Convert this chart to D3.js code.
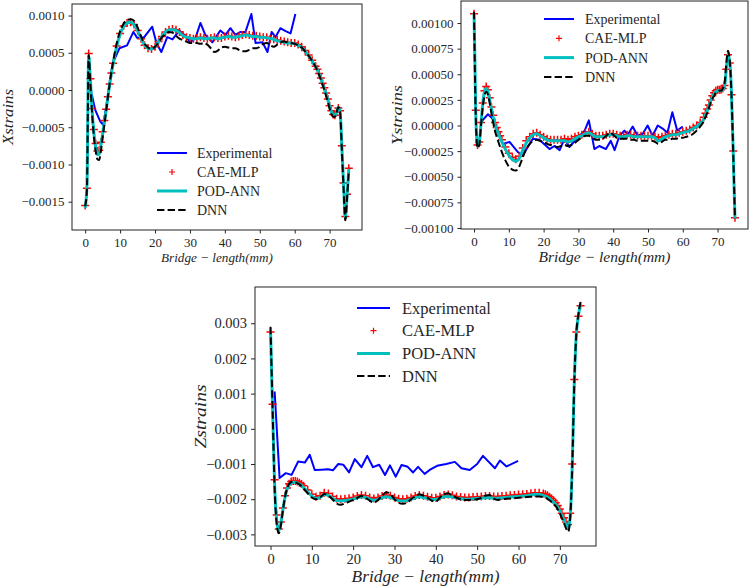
<!DOCTYPE html>
<html><head><meta charset="utf-8">
<script src="https://cdn.jsdelivr.net/npm/d3@7"></script>
<style>
body{margin:0;background:#fff}
svg{display:block}
</style>
</head><body>
<svg id="c" width="750" height="588"></svg>
<script>
// ---------------- DATA ----------------
const legendLabels = ["Experimental", "CAE-MLP", "POD-ANN", "DNN"];
const xTicks = [0, 10, 20, 30, 40, 50, 60, 70];
const yTicksX = [-0.0015, -0.0010, -0.0005, 0.0, 0.0005, 0.0010];
const yTicksY = [-0.001, -0.00075, -0.0005, -0.00025, 0, 0.00025, 0.0005, 0.00075, 0.001];
const yTicksZ = [-0.003, -0.002, -0.001, 0, 0.001, 0.002, 0.003];
const yLabels = ["Xstrains", "Ystrains", "Zstrains"];
const xLabel = "Bridge \u2212 length(mm)";

// units of the value arrays below
const unitX = 1e-4, unitY = 1e-4, unitZ = 1e-3;

// model sampling positions (mm)
const gridX = [0,0.5,1,1.5,2,2.5,3,3.5,4,4.5,5,5.5,6,6.5,7,7.5,8,
  9,10,11,12,13,14,15,16,17,18,19,20,21,22,23,24,25,26,27,28,29,30,31,32,33,34,35,36,37,38,
  39,40,41,42,43,44,45,46,47,48,49,50,51,52,53,54,55,56,57,58,59,60,61,62,63,64,65,66,
  66.5,67,67.5,68,68.5,69,69.5,70,70.5,71,71.5,72,72.5,73,73.5,74,74.5,75,75.5];
const gridYZ = [0,0.5,1,1.5,2,2.5,3,3.5,4,4.5,5,5.5,6,6.5,7,7.5,8,
  9,10,11,12,13,14,15,16,17,18,19,20,21,22,23,24,25,26,27,28,29,30,31,32,33,34,35,36,37,38,
  39,40,41,42,43,44,45,46,47,48,49,50,51,52,53,54,55,56,57,58,59,60,61,62,63,64,65,66,
  66.5,67,67.5,68,68.5,69,69.5,70,70.5,71,71.5,72,72.5,73,73.5,74,74.5,75];

// ---- X strains (x1e-4) ----
const caeX = [-15.5,-13.2,4.9,1.5,-2.5,-5.3,-7.2,-8.2,-8.1,-7.0,-5.6,-4.1,-2.6,-0.9,0.8,2.3,3.6,
  5.9,7.6,8.6,9.0,9.1,8.8,8.0,6.9,6.0,5.6, 5.5,5.8,6.5,7.2,7.8,8.1,8.2,8.1,7.8,7.4,
  7.1,7.0,6.9,7.0,7.1,7.0,6.9,7.0,7.1,7.0, 7.0,7.2,7.3,7.2,7.1,7.2,7.4,7.5,7.4,7.3,
  7.3,7.2,7.1,7.1,6.9,6.8,6.7,6.6,6.5,6.4, 6.3,6.3,6.1,5.8,5.3,4.7,4.0,3.2,
  2.8,2.2,1.6,0.9,0.3,-0.4,-1.2,-2.1,-2.8,-3.3,-3.4,-3.0,-2.4,-2.8,-7.5,-12.5,-17.0,-14.0,-10.5];
const podX = [-15.8,-13.0,4.6,1.2,-2.9,-5.8,-7.7,-8.7,-8.6,-7.4,-5.9,-4.3,-2.7,-1.0,0.7,2.2,3.5,
  5.8,7.5,8.5,9.0,9.1,8.8,8.0,6.9,6.0,5.6, 5.5,5.8,6.5,7.2,7.8,8.1,8.1,8.0,7.7,7.3,
  7.1,7.0,6.9,6.9,7.0,6.9,6.9,7.0,7.0,6.9, 7.0,7.1,7.2,7.1,7.1,7.2,7.3,7.4,7.3,7.2,
  7.2,7.1,7.1,7.0,6.9,6.8,6.6,6.5,6.4,6.3, 6.3,6.2,6.0,5.7,5.2,4.6,3.9,3.1,
  2.7,2.1,1.5,0.8,0.2,-0.5,-1.3,-2.2,-2.9,-3.4,-3.4,-2.9,-2.3,-2.9,-7.6,-12.7,-17.2,-14.2,-10.6];
const dnnX = [-15.6,-13.4,4.7,0.8,-3.3,-6.3,-8.2,-9.3,-9.4,-8.2,-6.4,-4.6,-2.9,-1.0,0.8,2.4,3.8,
  6.2,7.9,8.9,9.4,9.5,9.3,8.4,7.2,6.2,5.7, 5.5,5.8,6.4,7.1,7.5,7.8,7.7,7.3,6.9,6.7,
  6.5,6.3,6.3,6.3,6.2,6.3,6.1,5.6,5.1,5.3, 5.7,5.8,5.7,5.6,5.6,5.4,5.2,5.2,5.4,5.6,
  5.6,5.8,6.2,6.3,6.0,5.8,6.1,6.4,6.5,6.4, 6.3,6.2,6.0,5.7,5.2,4.6,3.9,3.1,
  2.6,2.0,1.4,0.7,0.0,-0.8,-1.6,-2.5,-3.2,-3.6,-3.6,-3.0,-2.3,-3.0,-8.0,-13.2,-17.5,-14.5,-10.8];
const expXpos = [0.7,1.4,2.9,4.3,5.2,7.9,9.8,12.0,13.8,14.9,16.9,19.2,20.4,21.8,23.5,25.0,27.0,28.4,30.1,31.6,
  33.0,34.4,36.4,38.7,40.2,41.6,43.0,44.5,45.9,47.6,48.8,50.8,52.2,53.4,54.5,55.9,57.4,58.8,60.2];
const expX = [1.1,0.4,-2.7,-4.2,-4.7,3.6,5.6,6.0,7.8,7.0,7.1,8.5,6.3,5.1,7.1,6.8,8.0,7.4,6.4,7.0,
  9.0,7.4,6.4,8.0,7.4,8.3,7.4,7.8,7.8,10.2,6.3,6.4,5.1,7.8,7.1,8.3,7.9,7.6,10.2];

// ---- Y strains (x1e-4) ----
const caeY = [10.9,1.5,-1.9,-1.6,0.3,2.2,3.4,3.8,3.5,2.7,1.8,1.0,0.3,-0.2,-0.6,-1.0,-1.4,
  -2.1,-2.7,-3.1,-3.3,-3.0,-2.2,-1.5,-1.1,-0.8,-0.7, -0.9,-1.1,-1.3,-1.4,-1.4,-1.4,-1.4,-1.3,-1.4,-1.3,
  -1.1,-1.0,-0.9,-0.7,-0.6,-0.8,-1.0,-1.0,-1.0,-0.9, -0.8,-0.8,-0.9,-1.0,-1.0,-0.9,-0.9,-1.0,-1.0,-1.0,
  -1.0,-1.0,-1.0,-1.1,-1.2,-1.1,-1.0,-0.9,-0.8,-0.8, -0.7,-0.6,-0.5,-0.4,-0.2,0.0,0.3,0.8,
  1.2,1.6,2.0,2.5,2.9,3.2,3.4,3.5,3.5,3.5,3.6,3.9,5.5,6.9,6.1,3.0,-2.5,-9.0];
const podY = [11.0,1.2,-2.0,-1.7,0.2,2.1,3.3,3.6,3.3,2.5,1.6,0.8,0.1,-0.4,-0.8,-1.2,-1.6,
  -2.3,-2.9,-3.3,-3.5,-3.2,-2.4,-1.7,-1.2,-0.9,-0.8, -1.0,-1.2,-1.4,-1.5,-1.5,-1.5,-1.5,-1.5,-1.6,-1.5,
  -1.3,-1.1,-1.0,-0.8,-0.7,-0.9,-1.1,-1.1,-1.1,-1.0, -0.9,-0.9,-1.0,-1.1,-1.1,-1.0,-1.0,-1.1,-1.1,-1.1,
  -1.1,-1.1,-1.1,-1.2,-1.5,-1.3,-1.1,-1.0,-0.9,-0.9, -0.8,-0.7,-0.6,-0.5,-0.3,-0.1,0.2,0.6,
  1.0,1.4,1.9,2.4,2.8,3.1,3.3,3.4,3.4,3.4,3.5,3.8,5.4,6.9,6.2,3.1,-2.6,-9.1];
const dnnY = [11.1,0.8,-2.2,-1.9,0.0,1.8,2.9,3.3,3.0,2.2,1.2,0.3,-0.5,-1.1,-1.6,-2.1,-2.6,
  -3.4,-4.0,-4.3,-4.4,-4.0,-3.1,-2.3,-1.8,-1.5,-1.4, -1.5,-1.6,-1.8,-1.9,-2.0,-2.1,-2.0,-1.9,-2.0,-1.9,
  -1.7,-1.4,-1.2,-1.0,-1.0,-1.2,-1.4,-1.4,-1.3,-1.0, -0.7,-0.9,-1.2,-1.3,-1.3,-1.3,-1.4,-1.4,-1.5,-1.5,
  -1.5,-1.5,-1.5,-1.6,-1.8,-1.6,-1.4,-1.4,-1.3,-1.3, -1.2,-1.2,-1.1,-1.0,-0.8,-0.5,-0.1,0.4,
  0.8,1.2,1.7,2.2,2.6,2.9,3.2,3.3,3.4,3.4,3.6,4.1,6.0,7.3,6.4,3.1,-2.6,-9.1];
const expYpos = [1.6,4.0,5.5,6.8,8.3,10.2,12.6,14.0,16.9,18.8,21.7,23.1,24.6,26.0,27.4,30.3,31.8,33.0,34.6,36.0,
  37.9,39.3,40.4,41.8,43.2,44.2,45.6,47.0,48.5,49.9,51.3,52.8,54.2,55.6,57.0,58.4,60.0];
const expY = [0.2,1.1,0.6,-0.6,-1.8,-1.6,-2.6,-2.9,-1.3,-1.4,-2.3,-2.0,-2.4,-1.3,-2.1,-1.0,-0.5,0.5,-2.3,-2.0,
  -2.3,-1.5,-2.4,-1.0,-0.5,-0.9,-0.1,-1.0,-0.8,0.0,-1.0,0.0,-0.3,-0.7,1.3,-0.5,-0.1];

// ---- Z strains (x1e-3) ----
const caeZ = [2.75,0.7,-1.45,-2.45,-2.85,-2.65,-2.25,-1.9,-1.68,-1.56,-1.5,-1.48,-1.48,-1.5,-1.53,-1.57,-1.62,
  -1.74,-1.86,-1.93,-1.9,-1.82,-1.84,-1.92,-1.99,-2.0,-1.99, -1.97,-1.95,-1.91,-1.88,-1.9,-1.95,-1.98,-1.95,-1.91,-1.88,
  -1.9,-1.95,-1.99,-2.0,-1.99,-1.95,-1.91,-1.88,-1.9,-1.93, -1.96,-1.96,-1.92,-1.88,-1.87,-1.89,-1.92,-1.94,-1.95,-1.95,
  -1.94,-1.93,-1.92,-1.91,-1.91,-1.92,-1.92,-1.91,-1.9,-1.89, -1.88,-1.87,-1.86,-1.85,-1.83,-1.82,-1.82,-1.84,
  -1.86,-1.89,-1.93,-1.98,-2.04,-2.1,-2.18,-2.28,-2.4,-2.53,-2.65,-2.72,-2.4,-1.0,1.4,2.75,3.2,3.5];
const podZ = [2.8,0.6,-1.6,-2.6,-2.9,-2.7,-2.3,-1.95,-1.72,-1.6,-1.54,-1.52,-1.52,-1.54,-1.57,-1.61,-1.67,
  -1.79,-1.91,-1.98,-1.95,-1.87,-1.89,-1.97,-2.04,-2.05,-2.04, -2.02,-2.0,-1.96,-1.93,-1.95,-2.0,-2.03,-2.0,-1.96,-1.93,
  -1.95,-2.0,-2.04,-2.05,-2.04,-2.0,-1.96,-1.93,-1.95,-1.98, -2.01,-2.01,-1.97,-1.93,-1.92,-1.94,-1.97,-1.99,-2.0,-2.0,
  -1.99,-1.98,-1.97,-1.96,-1.96,-1.97,-1.97,-1.96,-1.95,-1.94, -1.93,-1.92,-1.91,-1.9,-1.88,-1.87,-1.87,-1.89,
  -1.91,-1.94,-1.98,-2.03,-2.09,-2.15,-2.23,-2.34,-2.47,-2.6,-2.74,-2.84,-2.5,-1.05,1.35,2.7,3.22,3.55];
const dnnZ = [2.9,0.6,-1.7,-2.7,-2.97,-2.75,-2.32,-1.95,-1.7,-1.57,-1.51,-1.5,-1.52,-1.55,-1.58,-1.63,-1.7,
  -1.83,-1.95,-2.0,-1.95,-1.85,-1.9,-2.0,-2.12,-2.16,-2.12, -2.07,-2.02,-1.96,-1.91,-1.96,-2.04,-2.1,-2.02,-1.9,-1.8,
  -1.86,-2.0,-2.1,-2.13,-2.1,-2.0,-1.92,-1.86,-1.9,-1.96, -2.04,-2.07,-1.95,-1.86,-1.83,-1.9,-1.96,-2.0,-2.02,-2.02,
  -2.01,-2.0,-1.96,-1.9,-1.88,-1.98,-2.02,-2.0,-1.99,-1.98, -1.97,-1.96,-1.95,-1.94,-1.93,-1.92,-1.92,-1.94,
  -1.96,-1.99,-2.03,-2.08,-2.14,-2.2,-2.29,-2.4,-2.54,-2.68,-2.83,-2.93,-2.55,-1.1,1.3,2.72,3.25,3.6];
const expZpos = [1.0,2.2,3.7,5.1,6.7,8.3,9.5,10.7,12.3,13.9,15.1,16.4,17.6,19.0,20.4,22.0,23.4,24.8,26.3,27.7,
  28.9,30.3,31.7,33.2,34.5,35.7,37.3,38.5,40.3,42.5,44.6,46.2,48.2,50.0,51.4,54.3,55.5,57.1,59.9];
const expZ = [1.06,-1.4,-1.26,-1.31,-0.93,-0.96,-0.74,-1.17,-1.16,-1.15,-1.18,-1.0,-1.02,-1.24,-0.86,-1.09,-0.77,-1.09,-1.02,-1.31,
  -1.04,-1.36,-1.03,-1.08,-1.24,-1.08,-1.28,-1.17,-1.05,-1.0,-0.94,-1.12,-1.17,-1.0,-0.77,-1.12,-0.9,-1.07,-0.91];

// ---------------- DRAW ----------------
const FONT = '"Liberation Serif", "DejaVu Serif", serif';
const TXT = "#262626";
const svg = d3.select("#c");

function panel(c) {
  const x = d3.scaleLinear().domain(c.xDomain).range([c.l, c.r]);
  const y = d3.scaleLinear().domain(c.yDomain).range([c.b, c.t]);
  const g = svg.append("g");
  const clipId = "clip" + c.id;
  svg.append("clipPath").attr("id", clipId).append("rect")
    .attr("x", c.l).attr("y", c.t).attr("width", c.r - c.l).attr("height", c.b - c.t);
  const plot = g.append("g").attr("clip-path", `url(#${clipId})`);
  const u = c.unit;
  const lin = d3.line().x(d => x(d[0])).y(d => y(d[1] * u));
  const smooth = d3.line().curve(d3.curveMonotoneX).x(d => x(d[0])).y(d => y(d[1] * u));

  plot.append("path").datum(d3.zip(c.expPos, c.exp)).attr("d", lin)
    .attr("fill", "none").attr("stroke", "#0000ff").attr("stroke-width", 2).attr("stroke-linejoin", "round");
  const ms = c.ms;
  plot.append("g").selectAll("path").data(d3.zip(c.grid, c.cae)).join("path")
    .attr("transform", d => `translate(${x(d[0])},${y(d[1] * u)})`)
    .attr("d", `M${-ms},0H${ms}M0,${-ms}V${ms}`)
    .attr("stroke", "#ff0000").attr("stroke-width", 1.5).attr("fill", "none");
  plot.append("path").datum(d3.zip(c.grid, c.pod)).attr("d", smooth)
    .attr("fill", "none").attr("stroke", "#00bfbf").attr("stroke-width", 3);
  plot.append("path").datum(d3.zip(c.grid, c.dnn)).attr("d", smooth)
    .attr("fill", "none").attr("stroke", "#000").attr("stroke-width", 2).attr("stroke-dasharray", "7.4,3.2");

  g.append("rect").attr("x", c.l).attr("y", c.t).attr("width", c.r - c.l).attr("height", c.b - c.t)
    .attr("fill", "none").attr("stroke", "#222").attr("stroke-width", 1);

  const xa = d3.axisBottom(x).tickValues(xTicks).tickSize(c.tick).tickPadding(c.pad).tickFormat(d3.format("d"));
  g.append("g").attr("transform", `translate(0,${c.b})`).call(xa)
    .call(s => s.select(".domain").remove())
    .attr("font-family", FONT).attr("font-size", c.tickFs).attr("color", TXT);
  const ya = d3.axisLeft(y).tickValues(c.yTicks).tickSize(c.tick).tickPadding(c.pad).tickFormat(d3.format(c.fmt));
  g.append("g").attr("transform", `translate(${c.l},0)`).call(ya)
    .call(s => s.select(".domain").remove())
    .attr("font-family", FONT).attr("font-size", c.tickFs).attr("color", TXT);

  // axis labels
  g.append("text").attr("x", (c.l + c.r) / 2).attr("y", c.xLabY).attr("text-anchor", "middle")
    .attr("font-family", FONT).attr("font-style", "italic").attr("font-size", c.xLabFs).attr("fill", TXT)
    .attr("textLength", c.xLabW).attr("lengthAdjust", "spacingAndGlyphs").text(xLabel);
  g.append("text").attr("transform", `translate(${c.yLabX},${(c.t + c.b) / 2}) rotate(-90)`)
    .attr("text-anchor", "middle").attr("font-family", FONT).attr("font-style", "italic")
    .attr("font-size", c.yLabFs).attr("fill", TXT)
    .attr("textLength", c.yLabW).attr("lengthAdjust", "spacingAndGlyphs").text(c.yLabel);

  // legend
  const lg = g.append("g");
  legendLabels.forEach((lab, i) => {
    const yy = c.legY + i * c.legDy;
    if (i === 0) lg.append("line").attr("x1", c.legX).attr("x2", c.legX + c.legL).attr("y1", yy).attr("y2", yy)
      .attr("stroke", "#0000ff").attr("stroke-width", 2);
    if (i === 1) lg.append("path").attr("transform", `translate(${c.legX + c.legL / 2},${yy})`)
      .attr("d", "M-3,0H3M0,-3V3").attr("stroke", "#ff0000").attr("stroke-width", 1.2);
    if (i === 2) lg.append("line").attr("x1", c.legX).attr("x2", c.legX + c.legL).attr("y1", yy).attr("y2", yy)
      .attr("stroke", "#00bfbf").attr("stroke-width", 3);
    if (i === 3) lg.append("line").attr("x1", c.legX).attr("x2", c.legX + c.legL).attr("y1", yy).attr("y2", yy)
      .attr("stroke", "#000").attr("stroke-width", 2).attr("stroke-dasharray", "7.4,3.2");
    lg.append("text").attr("x", c.legX + c.legL + c.legGap).attr("y", yy).attr("dy", "0.35em")
      .attr("font-family", FONT).attr("font-size", c.legFs).attr("fill", TXT).text(lab);
  });
}

panel({id: 1, l: 72, r: 362, t: 4, b: 230, xDomain: [-3.775, 79.275], yDomain: [-0.00188, 0.001155],
  unit: unitX, grid: gridX, cae: caeX, pod: podX, dnn: dnnX, expPos: expXpos, exp: expX,
  yTicks: yTicksX, fmt: ".4f", tick: 3.5, pad: 4, tickFs: 13, ms: 4,
  xLabY: 262, xLabFs: 13, xLabW: 112, yLabX: 13, yLabFs: 14, yLabW: 56, yLabel: yLabels[0],
  legX: 157, legL: 30, legGap: 10, legY: 153, legDy: 19, legFs: 14});

panel({id: 2, l: 461, r: 748, t: 1, b: 229, xDomain: [-3.75, 78.75], yDomain: [-0.00101, 0.001215],
  unit: unitY, grid: gridYZ, cae: caeY, pod: podY, dnn: dnnY, expPos: expYpos, exp: expY,
  yTicks: yTicksY, fmt: ".5f", tick: 3.5, pad: 4, tickFs: 13, ms: 4,
  xLabY: 262, xLabFs: 15, xLabW: 132, yLabX: 402, yLabFs: 14, yLabW: 60, yLabel: yLabels[1],
  legX: 544, legL: 30, legGap: 11, legY: 19, legDy: 19.3, legFs: 14});

panel({id: 3, l: 255, r: 596, t: 287, b: 546, xDomain: [-3.75, 78.75], yDomain: [-0.00333, 0.00403],
  unit: unitZ, grid: gridYZ, cae: caeZ, pod: podZ, dnn: dnnZ, expPos: expZpos, exp: expZ,
  yTicks: yTicksZ, fmt: ".3f", tick: 4, pad: 4, tickFs: 14.5, ms: 4,
  xLabY: 582, xLabFs: 17, xLabW: 148, yLabX: 206, yLabFs: 16, yLabW: 64, yLabel: yLabels[2],
  legX: 357, legL: 33, legGap: 12, legY: 308, legDy: 22.7, legFs: 16.5});
</script>
</body></html>
